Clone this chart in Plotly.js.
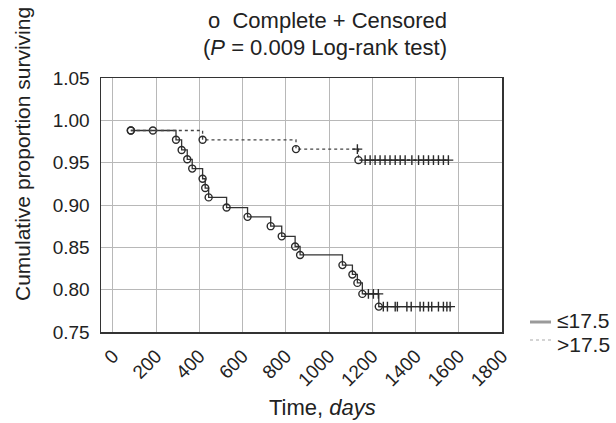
<!DOCTYPE html>
<html>
<head>
<meta charset="utf-8">
<script src="https://cdn.plot.ly/plotly-3.0.1.min.js"></script>
<style>html,body{margin:0;padding:0;background:#fff;}#chart{width:616px;height:423px;}</style>
</head>
<body>
<div id="chart"></div>
<script>
// Group <=17.5 (solid): time in days, survival, status (1 = complete, 0 = censored)
const lowTimes = [83, 185, 292, 318, 344, 367, 415, 427, 443, 526, 623, 730, 781, 843, 866, 1062, 1108, 1131, 1154, 1182, 1205, 1228, 1230,
  1251, 1270, 1306, 1316, 1360, 1380, 1421, 1437, 1460, 1475, 1506, 1529, 1545, 1560];
const lowSurv = [0.988, 0.988, 0.977, 0.965, 0.954, 0.943, 0.931, 0.920, 0.909, 0.897, 0.886, 0.875, 0.863, 0.851, 0.841, 0.829, 0.818, 0.808, 0.795, 0.795, 0.795, 0.795, 0.780,
  0.780, 0.780, 0.780, 0.780, 0.780, 0.780, 0.780, 0.780, 0.780, 0.780, 0.780, 0.780, 0.780, 0.780];
const lowStatus = [1, 1, 1, 1, 1, 1, 1, 1, 1, 1, 1, 1, 1, 1, 1, 1, 1, 1, 1, 0, 0, 0, 1,
  0, 0, 0, 0, 0, 0, 0, 0, 0, 0, 0, 0, 0, 0];

// Group >17.5 (dotted)
const highTimes = [83, 415, 847, 1131, 1136, 1167, 1190, 1213, 1236, 1259, 1282, 1306, 1329, 1352, 1383, 1414, 1437, 1460, 1483, 1506, 1529, 1552];
const highSurv = [0.988, 0.977, 0.966, 0.966, 0.953, 0.953, 0.953, 0.953, 0.953, 0.953, 0.953, 0.953, 0.953, 0.953, 0.953, 0.953, 0.953, 0.953, 0.953, 0.953, 0.953, 0.953];
const highStatus = [1, 1, 1, 0, 1, 0, 0, 0, 0, 0, 0, 0, 0, 0, 0, 0, 0, 0, 0, 0, 0, 0];

const groupNames = ['≤17.5', '>17.5'];
const xTicks = [0, 200, 400, 600, 800, 1000, 1200, 1400, 1600, 1800];
const yTicks = [0.75, 0.80, 0.85, 0.90, 0.95, 1.00, 1.05];

const FONT = 'Liberation Sans, Arial, Helvetica, sans-serif';
const INK = '#222';
const sym = s => s.map(v => v === 1 ? 'circle-open' : 'cross-thin-open');

function groupTraces(t, s, st, dash, color) {
  return [
    {x: t, y: s, type: 'scatter', mode: 'lines', line: {shape: 'hv', color: color, width: 1.3, dash: dash}, showlegend: false, hoverinfo: 'skip'},
    {x: t, y: s, type: 'scatter', mode: 'markers', showlegend: false,
     marker: {symbol: sym(st), size: 7, color: '#2a2a2a', line: {color: '#2a2a2a', width: 1.4}}}
  ];
}

const traces = [
  ...groupTraces(lowTimes, lowSurv, lowStatus, 'solid', '#333'),
  ...groupTraces(highTimes, highSurv, highStatus, 'dot', '#444')
];

// plot area in px: x 101..502, y 78..332
const px = v => (v - 101) / 401;
const py = v => (332 - v) / 254;

const layout = {
  width: 616, height: 423,
  margin: {l: 101, r: 114, t: 78, b: 91},
  paper_bgcolor: '#fff', plot_bgcolor: '#fff',
  font: {family: FONT, size: 19, color: INK},
  showlegend: false,
  xaxis: {
    range: [-55, 1800], tickvals: xTicks, ticktext: xTicks.map(String), tickangle: -45,
    showgrid: true, gridcolor: '#b8b8b8', gridwidth: 1, zeroline: false,
    showline: true, mirror: true, linecolor: '#333', linewidth: 1.5, ticks: '',
    ticklabelstandoff: 4,
    tickfont: {family: FONT, size: 19, color: INK}
  },
  yaxis: {
    range: [0.75, 1.05], tickvals: yTicks, ticktext: yTicks.map(v => v.toFixed(2)),
    showgrid: true, gridcolor: '#b8b8b8', gridwidth: 1, zeroline: false,
    showline: true, mirror: true, linecolor: '#333', linewidth: 1.5, ticks: '',
    ticklabelstandoff: 6,
    tickfont: {family: FONT, size: 19, color: INK}
  },
  annotations: [
    {text: 'o  Complete + Censored', xref: 'paper', yref: 'paper', x: px(327), y: py(21), xanchor: 'center', yanchor: 'middle', showarrow: false, font: {family: FONT, size: 22, color: INK}},
    {text: '(<i>P</i> = 0.009 Log-rank test)', xref: 'paper', yref: 'paper', x: px(325), y: py(47), xanchor: 'center', yanchor: 'middle', showarrow: false, font: {family: FONT, size: 22, color: INK}},
    {text: 'Cumulative proportion surviving', xref: 'paper', yref: 'paper', x: px(22), y: py(154), xanchor: 'center', yanchor: 'middle', textangle: -90, showarrow: false, font: {family: FONT, size: 21, color: INK}},
    {text: 'Time, <i>days</i>', xref: 'paper', yref: 'paper', x: px(322), y: py(407), xanchor: 'center', yanchor: 'middle', showarrow: false, font: {family: FONT, size: 22, color: INK}},
    {text: groupNames[0], xref: 'paper', yref: 'paper', x: px(555), y: py(320), xanchor: 'left', yanchor: 'middle', showarrow: false, font: {family: FONT, size: 21, color: INK}},
    {text: groupNames[1], xref: 'paper', yref: 'paper', x: px(555), y: py(344), xanchor: 'left', yanchor: 'middle', showarrow: false, font: {family: FONT, size: 21, color: INK}}
  ],
  shapes: [
    {type: 'line', xref: 'paper', yref: 'paper', x0: px(530), x1: px(551), y0: py(322), y1: py(322), line: {color: '#9a9a9a', width: 3}},
    {type: 'line', xref: 'paper', yref: 'paper', x0: px(530), x1: px(551), y0: py(340), y1: py(340), line: {color: '#aaa', width: 1.2, dash: 'dot'}}
  ]
};

Plotly.newPlot('chart', traces, layout, {displayModeBar: false, staticPlot: true});
</script>
</body>
</html>
